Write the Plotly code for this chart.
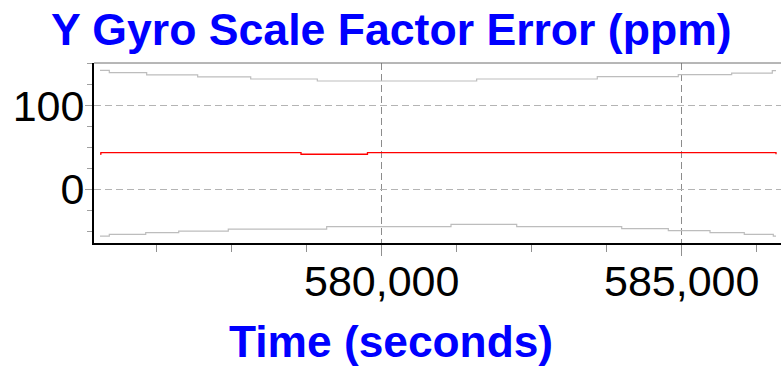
import plotly.graph_objects as go

# Time stamps (s) and values (ppm) for the estimate and its bounds
est_time = [575305, 575320, 578655, 579763, 586560, 586572]
est_val = [42.0, 43.8, 41.9, 43.8, 43.8, 42.0]

upper_time = [575305, 575460, 576083, 576933, 577817, 578927,
              581583, 583593, 584943, 585833, 586510, 586572]
upper_val = [142.3, 139.5, 136.7, 134.3, 131.9, 129.5,
             131.9, 134.7, 137.1, 138.8, 141.9, 141.9]

lower_time = [575305, 575460, 576067, 576617, 577443, 579083,
              581155, 582250, 584000, 584777, 585472, 586043, 586527, 586572]
lower_val = [-55.9, -53.8, -51.9, -49.9, -47.5, -44.7,
             -41.9, -44.7, -47.1, -49.5, -51.9, -53.8, -55.9, -55.9]

x_ticks = [580000, 585000]
y_ticks = [0, 100]

FONT = "Liberation Sans, Arial, sans-serif"
BLUE = "#0000ff"

fig = go.Figure()
for t, v in ((upper_time, upper_val), (lower_time, lower_val)):
    fig.add_trace(go.Scatter(x=t, y=v, mode="lines", line_shape="hv",
                             line=dict(color="#bdbdbd", width=1.2),
                             hoverinfo="skip"))
fig.add_trace(go.Scatter(x=est_time, y=est_val, mode="lines", line_shape="hv",
                         line=dict(color="#ff0000", width=1.3)))

fig.update_layout(
    width=782, height=368,
    margin=dict(l=94, r=1, t=63, b=125),
    paper_bgcolor="white", plot_bgcolor="white",
    showlegend=False,
    font=dict(family=FONT, size=43, color="black"),
)

fig.update_xaxes(
    range=[575205, 586655],
    tickvals=x_ticks, tickformat=",d",
    ticks="outside", ticklen=11, tickcolor="#909090", tickwidth=1,
    ticklabelstandoff=-12,
    showline=True, linecolor="black", linewidth=2,
    showgrid=True, gridcolor="#8c8c8c", griddash="7px,4px", gridwidth=1,
    zeroline=False,
    minor=dict(dtick=1250, tick0=580000, ticks="outside", ticklen=7,
               tickcolor="#909090", showgrid=False),
    tickfont=dict(size=43, family=FONT, color="black"),
)
fig.update_yaxes(
    range=[-64.2, 151],
    tickvals=y_ticks,
    ticks="outside", ticklen=7, tickcolor="#a0a0a0", tickwidth=1,
    ticklabelstandoff=-8,
    showline=True, linecolor="black", linewidth=2,
    showgrid=True, gridcolor="#b4b4b4", griddash="7px,4px", gridwidth=1,
    zeroline=False,
    minor=dict(dtick=25, tick0=0, ticks="outside", ticklen=5,
               tickcolor="#a0a0a0", showgrid=False),
    tickfont=dict(size=43, family=FONT, color="black"),
)

# frame line along the top of the plotting area
fig.add_shape(type="line", xref="paper", yref="paper", x0=0, x1=1, y0=1, y1=1,
              line=dict(color="#6e6e6e", width=1))

fig.add_annotation(text="<b>Y Gyro Scale Factor Error (ppm)</b>",
                   xref="paper", yref="paper", x=(391 - 94) / 687, y=1,
                   xanchor="center", yanchor="bottom", yshift=7, showarrow=False,
                   font=dict(size=44.6, color=BLUE, family=FONT))
fig.add_annotation(text="<b>Time (seconds)</b>",
                   xref="paper", yref="paper", x=(391 - 94) / 687, y=0,
                   xanchor="center", yanchor="top", yshift=-72, showarrow=False,
                   font=dict(size=44.3, color=BLUE, family=FONT))

fig.write_html("out.html")
